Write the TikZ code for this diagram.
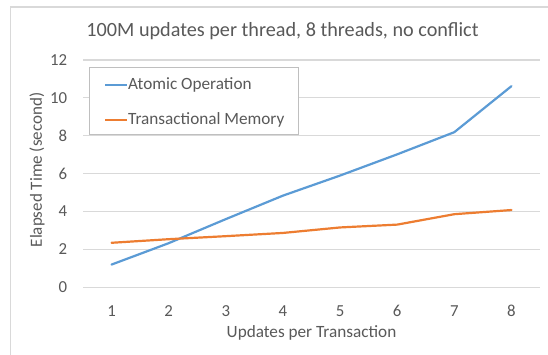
\documentclass[tikz,border=0pt]{standalone}
\usepackage{fontspec}
\setmainfont{Carlito}
\definecolor{txt}{HTML}{595959}
\definecolor{gridgray}{HTML}{D9D9D9}
\definecolor{legframe}{HTML}{BFBFBF}
\definecolor{aoblue}{HTML}{5B9BD5}
\definecolor{tmorange}{HTML}{ED7D31}
\begin{document}
\begin{tikzpicture}[x=1pt,y=1pt,
  lbl/.style={text=txt,inner sep=0pt,font=\fontsize{16.8}{18}\selectfont},
  leglbl/.style={lbl,anchor=west,font=\fontsize{17.2}{19}\selectfont},
  gridln/.style={draw=gridgray,line width=1.1pt},
  series/.style={line width=2.2pt,line cap=round,line join=round},
  aoline/.style={series,draw=aoblue},
  tmline/.style={series,draw=tmorange}]
\useasboundingbox (0,0) rectangle (548,354);
\fill[white] (0,0) rectangle (548,354);
% chart area frame
\draw[gridgray,line width=1.4pt] (10.5,-2) |- (550,347);
% title
\node[lbl,font=\fontsize{20.2}{22}\selectfont] (title) at (282.5,323) {100M updates per thread, 8 threads, no conflict};
% axis titles
\node[lbl,rotate=90,font=\fontsize{17}{19}\selectfont] (ytitle) at (37,184) {Elapsed Time (second)};
\node[lbl,font=\fontsize{17.2}{19}\selectfont] (xtitle) at (311.5,21) {Updates per Transaction};
\begin{scope}[shift={(54.44,66.7)},x=57.125pt,y=18.94pt]
  % horizontal gridlines and value labels
  \foreach \v in {0,2,...,12}{
    \draw[gridln] (0.5,\v) -- (8.5,\v);
    \node[lbl,anchor=east] (yl\v) at (0.225,\v) {\v};
  }
  % category labels
  \foreach \k in {1,...,8}{
    \node[lbl] (xl\k) at (\k,-1.25) {\k};
  }
  % data points
  \foreach \k/\v in {1/1.2,2/2.33,3/3.6,4/4.84,5/5.9,6/7.02,7/8.19,8/10.62}
    \coordinate (a\k) at (\k,\v);
  \foreach \k/\v in {1/2.35,2/2.54,3/2.7,4/2.87,5/3.16,6/3.31,7/3.86,8/4.08}
    \coordinate (t\k) at (\k,\v);
  \draw[aoline] (a1) -- (a2) -- (a3) -- (a4) -- (a5) -- (a6) -- (a7) -- (a8);
  \draw[tmline] (t1) -- (t2) -- (t3) -- (t4) -- (t5) -- (t6) -- (t7) -- (t8);
\end{scope}
% legend
\draw[legframe,fill=white,line width=0.9pt] (89,220) rectangle (298,287);
\coordinate (la0) at (105,269);
\coordinate (la1) at (127,269);
\coordinate (lt0) at (105,234);
\coordinate (lt1) at (127,234);
\draw[aoline,line cap=butt] (la0) -- (la1);
\draw[tmline,line cap=butt] (lt0) -- (lt1);
\node[leglbl] (lega) at (128,269) {Atomic Operation};
\node[leglbl] (legt) at (128,234) {Transactional Memory};
\end{tikzpicture}
\end{document}
